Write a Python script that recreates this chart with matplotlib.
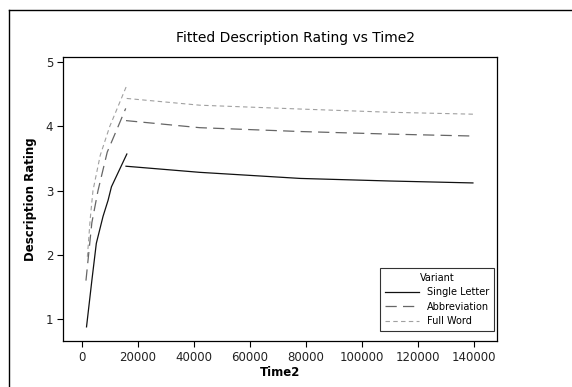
import numpy as np
import matplotlib
matplotlib.use("Agg")
import matplotlib.pyplot as plt
from matplotlib.lines import Line2D

# fitted values; each variant is drawn as two pieces
variants = ["Single Letter", "Abbreviation", "Full Word"]

single_rise_t = [1600, 3500, 5100, 7500, 9300, 10500, 16000]
single_rise_y = [0.88, 1.60, 2.18, 2.60, 2.85, 3.06, 3.57]
single_flat_t = [15700, 42000, 78000, 110000, 139600]
single_flat_y = [3.38, 3.285, 3.19, 3.15, 3.12]

abbrev_rise_t = [1400, 3500, 5700, 9000, 12900, 15600]
abbrev_rise_y = [1.60, 2.50, 3.00, 3.60, 4.00, 4.28]
abbrev_flat_t = [15700, 42000, 78000, 110000, 139600]
abbrev_flat_y = [4.09, 3.98, 3.92, 3.88, 3.85]

full_rise_t = [1900, 2900, 3900, 6500, 9900, 15900]
full_rise_y = [1.97, 2.55, 3.00, 3.55, 4.00, 4.63]
full_flat_t = [15950, 42000, 78000, 110000, 139600]
full_flat_y = [4.435, 4.33, 4.27, 4.22, 4.19]

xticks = [0, 20000, 40000, 60000, 80000, 100000, 120000, 140000]
yticks = [1, 2, 3, 4, 5]

fig = plt.figure(figsize=(5.72, 3.87), dpi=100)
ax = fig.add_axes([63/572, 46/387, 434/572, 284/387])

styles = [
    dict(color="#111111", lw=0.9, ls="-"),
    dict(color="#666666", lw=0.9, ls=(0, (9, 5))),
    dict(color="#a0a0a0", lw=0.8, ls=(0, (4, 3))),
]
pieces = [
    (single_rise_t, single_rise_y, single_flat_t, single_flat_y),
    (abbrev_rise_t, abbrev_rise_y, abbrev_flat_t, abbrev_flat_y),
    (full_rise_t, full_rise_y, full_flat_t, full_flat_y),
]
for name, st, (rt, ry, ft, fy) in zip(variants, styles, pieces):
    ax.plot(rt, ry, label=name, **st)
    ax.plot(ft, fy, **st)

ax.set_xlim(-6800, 148200)
ax.set_ylim(0.66, 5.08)
ax.set_xticks(xticks)
ax.set_yticks(yticks)
ax.tick_params(direction="out", length=4, width=0.8, labelsize=8.5,
               labelcolor="#222222", pad=3)
for sp in ax.spines.values():
    sp.set_linewidth(0.9)

ax.set_xlabel("Time2", fontsize=8.5, fontweight="bold", labelpad=2)
ax.set_ylabel("Description Rating", fontsize=8.5, fontweight="bold", labelpad=6)
fig.text(296/572, 1 - 38/387, "Fitted Description Rating vs Time2",
         ha="center", va="center", fontsize=10)

leg = ax.legend(title="Variant", loc="lower right", fontsize=7,
                title_fontsize=7, frameon=True, fancybox=False,
                edgecolor="black", handlelength=3.5, borderpad=0.5,
                labelspacing=0.45, borderaxespad=0,
                bbox_to_anchor=(0.993, 0.035))
leg.get_frame().set_linewidth(0.8)

# outer frame of the graph window
fig.add_artist(Line2D([9/572, 1], [1 - 10/387, 1 - 10/387], color="black", lw=1))
fig.add_artist(Line2D([9/572, 9/572], [0, 1 - 10/387], color="black", lw=1))

fig.savefig("out.png", dpi=100)
